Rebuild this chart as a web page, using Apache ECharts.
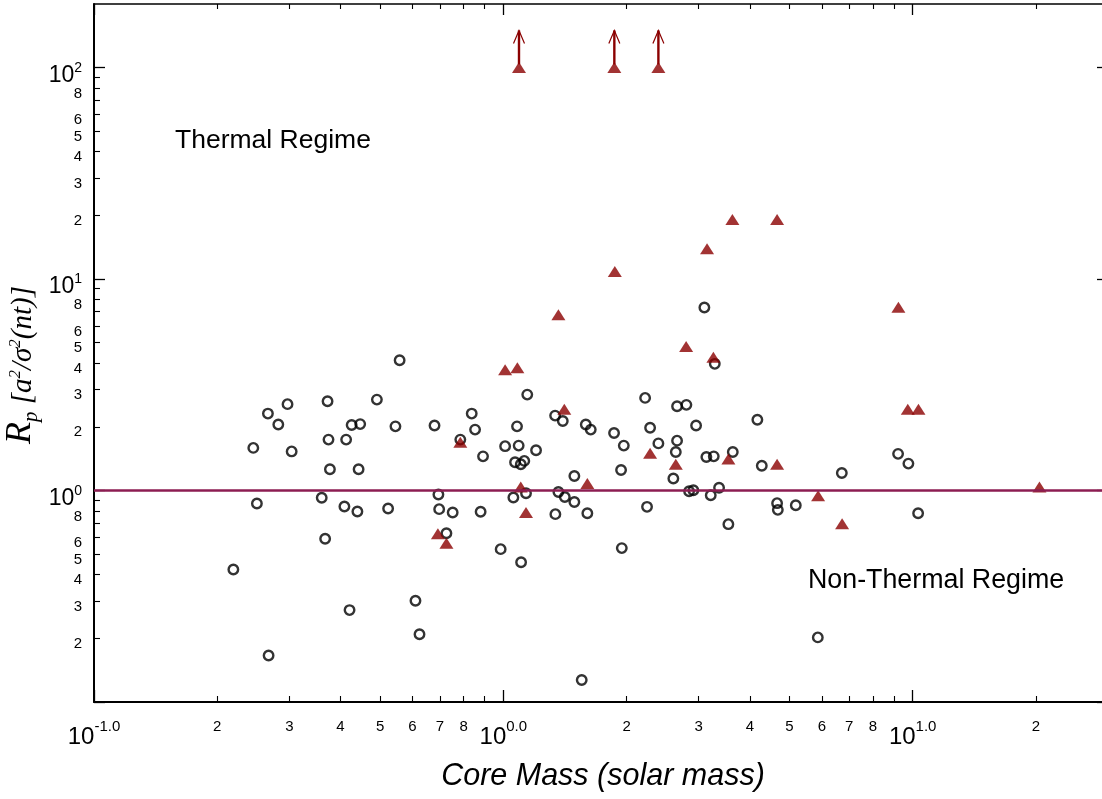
<!DOCTYPE html>
<html>
<head>
<meta charset="utf-8">
<script src="https://cdn.jsdelivr.net/npm/echarts@6/dist/echarts.min.js"></script>
<style>
html,body{margin:0;padding:0;background:#ffffff;}
#chart{width:1102px;height:799px;}
</style>
</head>
<body>
<div id="chart"></div>
<script>
// ---------------- data ----------------
const circleMass = [0.219,0.245,0.250,0.266,0.267,0.282,0.297,0.304,0.360,0.367,0.372,0.374,0.377,0.409,0.413,0.421,0.426,0.440,0.443,0.447,0.491,0.523,0.545,0.558,0.610,0.624,0.679,0.694,0.697,0.726,0.752,0.785,0.837,0.853,0.880,0.892,0.985,1.010,1.058,1.068,1.080,1.090,1.103,1.105,1.125,1.136,1.144,1.202,1.338,1.340,1.363,1.397,1.413,1.491,1.491,1.554,1.590,1.604,1.635,1.864,1.939,1.947,1.969,2.220,2.244,2.283,2.392,2.602,2.638,2.657,2.657,2.800,2.843,2.912,2.957,3.098,3.133,3.211,3.266,3.285,3.365,3.546,3.635,4.174,4.279,4.664,4.683,5.181,5.864,6.712,9.211,9.761,10.31];
const circleRp = [0.423,1.59,0.868,2.31,0.166,2.05,2.56,1.53,0.924,0.591,2.64,1.74,1.26,0.840,1.74,0.272,2.04,0.796,1.26,2.06,2.69,0.822,2.01,4.13,0.301,0.209,2.03,0.957,0.816,0.628,0.787,1.74,2.31,1.94,0.793,1.45,0.528,1.62,0.927,1.36,2.01,1.63,1.33,0.458,1.38,0.971,2.84,1.55,2.26,0.773,0.984,2.13,0.932,0.882,1.17,0.127,2.05,0.781,1.94,1.87,1.25,0.534,1.63,2.74,0.837,1.98,1.67,1.14,1.52,2.50,1.72,2.54,0.992,1.003,2.03,7.33,1.44,0.950,1.45,3.97,1.03,0.693,1.52,2.16,1.31,0.871,0.810,0.852,0.202,1.21,1.49,1.34,0.781];
const triangleMass = [0.692,0.726,0.785,1.010,1.082,1.103,1.136,1.363,1.409,1.604,1.872,2.283,2.638,2.796,3.145,3.259,3.546,3.627,4.664,4.664,5.874,6.723,9.228,9.728,10.33,20.40];
const triangleRp = [0.624,0.563,1.69,3.72,3.80,1.04,0.787,6.77,2.42,1.08,10.85,1.50,1.33,4.80,13.9,4.26,1.41,19.1,19.1,1.33,0.944,0.696,7.36,2.42,2.42,1.04];
const lowerLimitMass = [1.092,1.867,2.392];
const lowerLimitRp = [100,100,100];
const regimeBoundary = 1;
const xRange = [0.1, 30];
const yRange = [0.1, Math.pow(10, 2.3)];
const xMajorTicks = [0.1, 1, 10];
const yMajorTicks = [0.1, 1, 10, 100];
const yMajorLabels = [1, 10, 100];
const minorDigits = [2,3,4,5,6,7,8,9];
const xMinorLabelDigits = [2,3,4,5,6,7,8];
const yMinorLabelDigits = [2,3,4,5,6,8];
const decades = [0.1, 1, 10];
const xTitle = 'Core Mass (solar mass)';
const thermalText = 'Thermal Regime';
const nonThermalText = 'Non-Thermal Regime';

// ---------------- helpers ----------------
const L = v => Math.log10(v);
const lx = [L(xRange[0]), L(xRange[1])];
const ly = [L(yRange[0]), L(yRange[1])];
function minorValues(digits, lo, hi) {
  const out = [];
  decades.forEach(d => digits.forEach(k => {
    const v = L(k * d);
    if (v > lo + 1e-9 && v < hi - 1e-9) out.push(v);
  }));
  return out;
}
const xMinorTickVals = minorValues(minorDigits, lx[0], lx[1]);
const xMinorLabelVals = minorValues(xMinorLabelDigits, lx[0], lx[1]);
const yMinorTickVals = minorValues(minorDigits, ly[0], ly[1]);
const yMinorLabelVals = minorValues(yMinorLabelDigits, ly[0], ly[1]);
const digitOf = v => String(Math.round(Math.pow(10, v - Math.floor(v + 1e-9))));

const SANS = 'Liberation Sans, Arial, Helvetica, sans-serif';
const SERIF = 'Liberation Serif, Times New Roman, serif';
const BLACK = '#000000';
const RED = '#8b0000';

function tickAxis(pos, range, values, len, width, labelCfg) {
  return {
    type: 'value', position: pos, min: range[0], max: range[1],
    axisLine: { show: false, onZero: false },
    splitLine: { show: false },
    axisTick: { show: true, inside: true, length: len, customValues: values,
                lineStyle: { color: BLACK, width: width } },
    axisLabel: labelCfg || { show: false },
    axisPointer: { show: false }
  };
}

const xAxes = [
  { type: 'log', logBase: 10, min: xRange[0], max: xRange[1], position: 'bottom',
    axisLine: { show: true, onZero: false, lineStyle: { color: BLACK, width: 2 } },
    axisTick: { show: false }, axisLabel: { show: false }, splitLine: { show: false } },
  tickAxis('bottom', lx, xMajorTicks.map(L), 12, 1.3, {
    show: true, customValues: xMajorTicks.map(L), margin: 17, hideOverlap: false,
    formatter: v => '{b|10}{s|' + Math.round(v).toFixed(1) + '}',
    rich: {
      b: { fontSize: 24, lineHeight: 30, verticalAlign: 'bottom', fontFamily: SANS, color: BLACK },
      s: { fontSize: 15, lineHeight: 9, verticalAlign: 'top', fontFamily: SANS, color: BLACK }
    }
  }),
  tickAxis('bottom', lx, xMinorTickVals, 6, 1.1, {
    show: true, customValues: xMinorLabelVals, margin: 17, hideOverlap: false,
    formatter: v => '{m|' + digitOf(v) + '}',
    rich: { m: { fontSize: 15, lineHeight: 12, verticalAlign: 'top', fontFamily: SANS, color: BLACK } }
  }),
  Object.assign(tickAxis('top', lx, xMajorTicks.map(L), 11, 1.3), {
    axisLine: { show: true, onZero: false, lineStyle: { color: BLACK, width: 1.5 } } }),
  tickAxis('top', lx, xMinorTickVals, 5, 1.1)
];

const yAxes = [
  { type: 'log', logBase: 10, min: yRange[0], max: yRange[1], position: 'left',
    axisLine: { show: true, onZero: false, lineStyle: { color: BLACK, width: 2 } },
    axisTick: { show: false }, axisLabel: { show: false }, splitLine: { show: false } },
  tickAxis('left', ly, yMajorTicks.map(L), 11, 1.3, {
    show: true, customValues: yMajorLabels.map(L), margin: 12, hideOverlap: false,
    padding: [13, 0, 0, 0],
    formatter: v => '{b|10}{s|' + Math.round(v) + '}',
    rich: {
      b: { fontSize: 23, lineHeight: 26, verticalAlign: 'bottom', fontFamily: SANS, color: BLACK },
      s: { fontSize: 14, lineHeight: 14, verticalAlign: 'top', fontFamily: SANS, color: BLACK }
    }
  }),
  tickAxis('left', ly, yMinorTickVals, 6, 1.1, {
    show: true, customValues: yMinorLabelVals, margin: 12, hideOverlap: false,
    verticalAlign: 'top', lineHeight: 11,
    formatter: v => digitOf(v),
    fontSize: 15, fontFamily: SANS, color: BLACK
  }),
  tickAxis('right', ly, yMajorTicks.map(L), 11, 1.3),
  tickAxis('right', ly, yMinorTickVals, 6, 1.1)
];

const circleData = circleMass.map((m, i) => [m, circleRp[i]]);
const triangleData = triangleMass.map((m, i) => [m, triangleRp[i]])
  .concat(lowerLimitMass.map((m, i) => [m, lowerLimitRp[i]]));
const limitData = lowerLimitMass.map((m, i) => [m, lowerLimitRp[i]]);

const titleTok = (size, padTop) => ({
  fontSize: size, lineHeight: 40, verticalAlign: 'top', padding: [padTop, 0, 0, 0],
  fontStyle: 'italic', fontFamily: SERIF, fill: BLACK, color: BLACK
});

const option = {
  animation: false,
  backgroundColor: '#ffffff',
  grid: { left: 94, top: 4, width: 1014, height: 698, containLabel: false, outerBoundsMode: 'none' },
  xAxis: xAxes,
  yAxis: yAxes,
  series: [
    {
      type: 'scatter', name: 'cores', xAxisIndex: 0, yAxisIndex: 0, z: 3,
      symbol: 'circle', symbolSize: 9.5,
      itemStyle: { color: 'rgba(255,255,255,0)', borderColor: BLACK, borderWidth: 2.4 },
      data: circleData,
      markLine: {
        silent: true, symbol: ['none', 'none'], animation: false,
        label: { show: false },
        lineStyle: { color: '#8c1d52', width: 2.5, type: 'solid' },
        data: [{ yAxis: regimeBoundary }]
      }
    },
    {
      type: 'scatter', name: 'triangles', xAxisIndex: 0, yAxisIndex: 0, z: 4,
      symbol: 'triangle', symbolSize: [14, 11],
      itemStyle: { color: RED },
      data: triangleData
    },
    {
      type: 'custom', name: 'lower limits', xAxisIndex: 0, yAxisIndex: 0, z: 4,
      data: limitData,
      renderItem: function (params, api) {
        const p = api.coord([api.value(0), api.value(1)]);
        const tip = p[1] - 37;
        return {
          type: 'group',
          children: [
            { type: 'line', shape: { x1: p[0], y1: p[1] - 3, x2: p[0], y2: tip },
              style: { stroke: RED, lineWidth: 2.4 } },
            { type: 'polyline', shape: { points: [[p[0] - 5.5, tip + 13], [p[0], tip], [p[0] + 5.5, tip + 13]] },
              style: { stroke: RED, fill: null, lineWidth: 1.2 } }
          ]
        };
      }
    }
  ],
  graphic: [
    { type: 'text', x: 175, y: 141, silent: true,
      style: { text: thermalText, fontSize: 26.5, fontFamily: SANS, fill: BLACK, align: 'left', verticalAlign: 'middle' } },
    { type: 'text', x: 808, y: 581, silent: true,
      style: { text: nonThermalText, fontSize: 26.8, fontFamily: SANS, fill: BLACK, align: 'left', verticalAlign: 'middle' } },
    { type: 'text', x: 603, y: 777, silent: true,
      style: { text: xTitle, fontSize: 30.5, fontStyle: 'italic', fontFamily: SANS, fill: BLACK, align: 'center', verticalAlign: 'middle' } },
    { type: 'text', x: 21, y: 365, rotation: Math.PI / 2, silent: true,
      style: {
        text: '{R|R}{p|p}{t| [a}{sup|2}{t|/σ}{sup|2}{t|(nt)]}',
        align: 'center', verticalAlign: 'middle', fill: BLACK,
        rich: {
          R: titleTok(36, 2),
          p: titleTok(21, 20),
          t: titleTok(29, 8),
          sup: titleTok(17, 6)
        }
      } }
  ]
};

const chart = echarts.init(document.getElementById('chart'), null, { renderer: 'canvas' });
chart.setOption(option);
</script>
</body>
</html>
